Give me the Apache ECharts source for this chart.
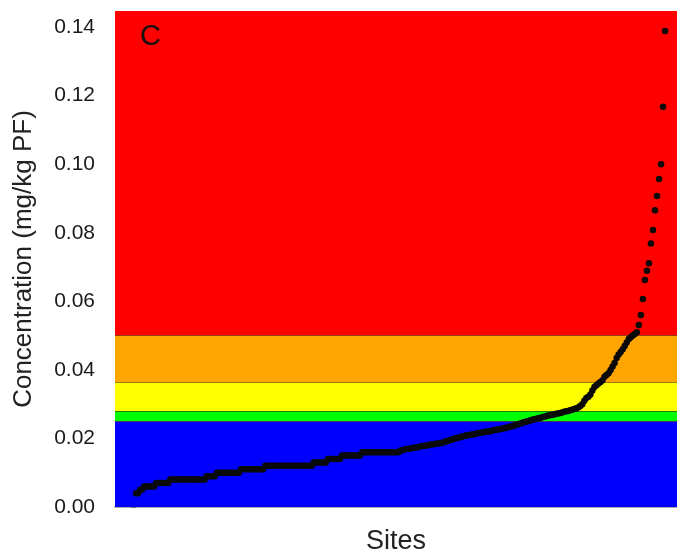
<!DOCTYPE html>
<html>
<head>
<meta charset="utf-8">
<script src="https://cdn.jsdelivr.net/npm/echarts@6/dist/echarts.min.js"></script>
<style>
  html, body { margin: 0; padding: 0; background: #fff; }
  #chart { width: 677px; height: 552px; }
</style>
</head>
<body>
<div id="chart"></div>
<script>
// concentrations per site, sorted (mg/kg PF)
const concentration = [
  0.004, 0.004, 0.005, 0.005, 0.006, 0.006, 0.006, 0.006, 0.006, 0.006,
  0.007, 0.007, 0.007, 0.007, 0.007, 0.007, 0.007, 0.008, 0.008, 0.008,
  0.008, 0.008, 0.008, 0.008, 0.008, 0.008, 0.008, 0.008, 0.008, 0.008,
  0.008, 0.008, 0.008, 0.008, 0.008, 0.009, 0.009, 0.009, 0.009, 0.009,
  0.010, 0.010, 0.010, 0.010, 0.010, 0.010, 0.010, 0.010, 0.010, 0.010,
  0.010, 0.010, 0.011, 0.011, 0.011, 0.011, 0.011, 0.011, 0.011, 0.011,
  0.011, 0.011, 0.011, 0.011, 0.012, 0.012, 0.012, 0.012, 0.012, 0.012,
  0.012, 0.012, 0.012, 0.012, 0.012, 0.012, 0.012, 0.012, 0.012, 0.012,
  0.012, 0.012, 0.012, 0.012, 0.012, 0.012, 0.012, 0.012, 0.013, 0.013,
  0.013, 0.013, 0.013, 0.013, 0.013, 0.014, 0.014, 0.014, 0.014, 0.014,
  0.014, 0.014, 0.015, 0.015, 0.015, 0.015, 0.015, 0.015, 0.015, 0.015,
  0.015, 0.015, 0.016, 0.016, 0.016, 0.016, 0.016, 0.016, 0.016, 0.016,
  0.016, 0.016, 0.016, 0.016, 0.016, 0.016, 0.016, 0.016, 0.016, 0.016,
  0.016, 0.0165, 0.0166, 0.0168, 0.0169, 0.017, 0.0171, 0.0172, 0.0173, 0.0174,
  0.0175, 0.0177, 0.0178, 0.0179, 0.018, 0.0181, 0.0182, 0.0183, 0.0184, 0.0185,
  0.0186, 0.0187, 0.0188, 0.019, 0.0192, 0.0194, 0.0196, 0.0198, 0.020, 0.0201,
  0.0203, 0.0205, 0.0206, 0.0208, 0.0209, 0.021, 0.0211, 0.0212, 0.0213, 0.0215,
  0.0216, 0.0217, 0.0218, 0.0219, 0.022, 0.0221, 0.0222, 0.0224, 0.0225, 0.0226,
  0.0227, 0.0228, 0.0229, 0.0231, 0.0232, 0.0234, 0.0235, 0.0237, 0.0239, 0.0241,
  0.0243, 0.0245, 0.0247, 0.0249, 0.025, 0.0252, 0.0254, 0.0256, 0.0257, 0.0259,
  0.026, 0.0262, 0.0263, 0.0265, 0.0267, 0.0268, 0.0269, 0.027, 0.0272, 0.0273,
  0.0274, 0.0276, 0.0278, 0.0279, 0.028, 0.0282, 0.0284, 0.0286, 0.0288, 0.029,
  0.0295, 0.030, 0.031, 0.0318, 0.0322, 0.0328, 0.034, 0.035, 0.0355, 0.036,
  0.0365, 0.037, 0.038, 0.0385, 0.039, 0.040, 0.041, 0.042, 0.0435, 0.0445,
  0.0452, 0.046, 0.047, 0.048, 0.049, 0.0495, 0.050, 0.0505, 0.051,
  0.0531, 0.056, 0.0607, 0.0662, 0.0689, 0.0711, 0.0769, 0.0808, 0.0866,
  0.0907, 0.0957, 0.1000, 0.1168, 0.1389
];

// class limits of the coloured bands (lower, upper)
const bandLimits = [[0, 0.025], [0.025, 0.028], [0.028, 0.0365], [0.0365, 0.05], [0.05, 0.1447]];
const bandColors = ['#0000ff', '#00ff00', '#ffff00', '#ffa500', '#ff0000'];
const yTicks = [0, 0.02, 0.04, 0.06, 0.08, 0.10, 0.12, 0.14];

const yMax = 0.1447;

const myChart = echarts.init(document.getElementById('chart'));

myChart.setOption({
  animation: false,
  backgroundColor: '#fff',
  grid: {
    left: 115,
    right: 0,
    top: 11,
    bottom: 45,
    containLabel: false,
    outerBoundsMode: 'none'
  },
  graphic: [{
    type: 'text',
    left: 140,
    top: 22,
    style: {
      text: 'C',
      fontFamily: 'Liberation Sans',
      fontSize: 29,
      fill: '#111'
    },
    z: 10
  }],
  xAxis: {
    type: 'value',
    min: -10.4,
    max: 267.9,
    offset: 4,
    name: 'Sites',
    nameLocation: 'middle',
    nameGap: 17,
    nameTextStyle: {
      fontFamily: 'Liberation Sans',
      fontSize: 27,
      color: '#222',
      verticalAlign: 'top'
    },
    axisLine: { show: true, lineStyle: { color: '#a8a8a8', width: 2 } },
    axisTick: { show: false },
    axisLabel: { show: false },
    splitLine: { show: false }
  },
  yAxis: {
    type: 'value',
    min: 0,
    max: yMax,
    offset: 3,
    name: 'Concentration (mg/kg PF)',
    nameLocation: 'middle',
    nameGap: 75,
    nameTextStyle: {
      fontFamily: 'Liberation Sans',
      fontSize: 26,
      color: '#222'
    },
    axisLine: { show: false },
    axisTick: {
      show: true,
      length: 5,
      customValues: yTicks,
      lineStyle: { color: '#555', width: 1.5 }
    },
    axisLabel: {
      customValues: yTicks,
      margin: 17,
      fontFamily: 'Liberation Sans',
      fontSize: 21,
      color: '#1a1a1a',
      formatter: (v) => v.toFixed(2)
    },
    splitLine: { show: false }
  },
  series: [
    {
      name: 'Concentration',
      type: 'scatter',
      z: 5,
      symbol: 'circle',
      symbolSize: 6.5,
      itemStyle: { color: '#0a0a0a', opacity: 1 },
      data: concentration.map((v, i) => [i, v]),
      markArea: {
        silent: true,
        z: 1,
        label: { show: false },
        data: bandLimits.map((b, i) => [
          { yAxis: b[0], itemStyle: { color: bandColors[i], opacity: 1 } },
          { yAxis: b[1] }
        ])
      },
      markLine: {
        silent: true,
        z: 2,
        symbol: ['none', 'none'],
        precision: 5,
        label: { show: false },
        lineStyle: { color: 'rgba(70,20,0,0.55)', width: 1, type: 'solid' },
        data: bandLimits.slice(1).map((b) => ({ yAxis: b[0] }))
      }
    }
  ]
});

window.addEventListener('resize', () => { myChart.resize(); });
</script>
</body>
</html>
